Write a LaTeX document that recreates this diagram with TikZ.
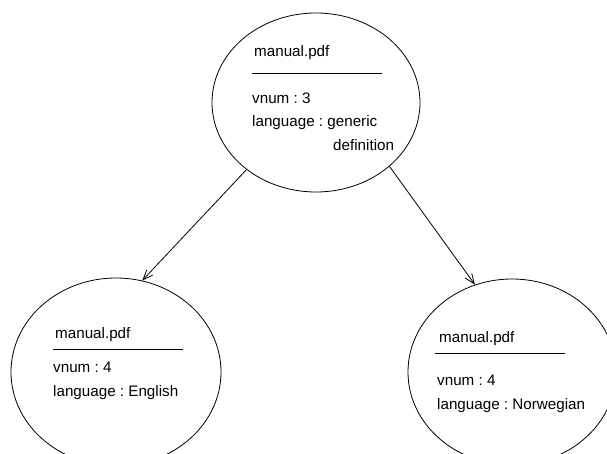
\documentclass[tikz,border=0pt]{standalone}
\usepackage{fontspec}
\setmainfont{Liberation Sans}
\usetikzlibrary{shapes.geometric,arrows.meta}
\begin{document}
\frenchspacing
\begin{tikzpicture}[x=1pt,y=-1pt,
  obj/.style={ellipse,draw,line width=0.8pt,inner sep=0pt},
  lbl/.style={anchor=base west,inner sep=0pt,font=\fontsize{15.2}{18}\selectfont},
  rule/.style={line width=0.8pt},
  link/.style={line width=0.8pt,-{Straight Barb[length=10pt,width=8pt,line width=0.8pt]}}]
\useasboundingbox (0,0) rectangle (607,454);
% ellipses
\node[obj,minimum width=208pt,minimum height=179pt] (top) at (316,102.5) {};
\node[obj,minimum width=210pt,minimum height=188pt] (bl) at (116,372) {};
\node[obj,minimum width=208pt,minimum height=186pt] (br) at (512,372) {};
% top texts
\node[lbl] (t1) at (254,57) {manual.pdf};
\coordinate (tr1) at (252,73);
\coordinate (tr2) at (382,73);
\draw[rule] (tr1) -- (tr2);
\node[lbl] (t2) at (252,104) {vnum : 3};
\node[lbl] (t3) at (252,127) {language : generic};
\node[lbl] (t4) at (333,151) {definition};
% bottom-left texts
\node[lbl] (l1) at (55,338) {manual.pdf};
\coordinate (lr1) at (53,349);
\coordinate (lr2) at (183,349);
\draw[rule] (lr1) -- (lr2);
\node[lbl] (l2) at (53,372) {vnum : 4};
\node[lbl] (l3) at (53,396) {language : English};
% bottom-right texts
\node[lbl] (r1) at (439,342) {manual.pdf};
\coordinate (rr1) at (435,353);
\coordinate (rr2) at (565,353);
\draw[rule] (rr1) -- (rr2);
\node[lbl] (r2) at (437,385) {vnum : 4};
\node[lbl] (r3) at (437,409) {language : Norwegian};
% connectors
\draw[link] (top.-136) -- (bl.74);
\draw[link] (top.-41) -- (br.113);
\end{tikzpicture}
\end{document}
